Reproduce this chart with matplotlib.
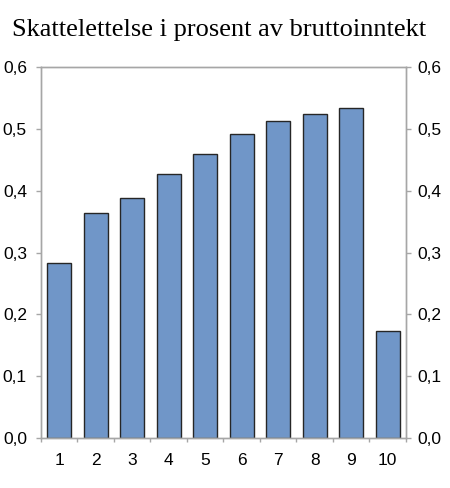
import matplotlib
matplotlib.use("Agg")
import matplotlib.pyplot as plt
import numpy as np

# Data
deciles = ["1", "2", "3", "4", "5", "6", "7", "8", "9", "10"]
values = [0.283, 0.364, 0.389, 0.428, 0.460, 0.492, 0.513, 0.525, 0.534, 0.173]
yticks = [0.0, 0.1, 0.2, 0.3, 0.4, 0.5, 0.6]
ytick_labels = ["0,0", "0,1", "0,2", "0,3", "0,4", "0,5", "0,6"]
title = "Skattelettelse i prosent av bruttoinntekt"

bar_color = "#7096C8"
edge_color = "#262626"
axis_color = "#A6A6A6"
tick_size = 12.5

plt.rcParams["font.family"] = ["Liberation Sans", "DejaVu Sans"]

fig = plt.figure(figsize=(4.5, 4.88), dpi=100)
ax = fig.add_axes([0.091, 0.1025, 0.811, 0.7595])

x = np.arange(len(deciles))
ax.bar(x, values, width=0.66, color=bar_color, edgecolor=edge_color, linewidth=1.0)

ax.set_xlim(-0.5, len(deciles) - 0.5)
ax.set_ylim(0, 0.6)

# category labels in the middle, tick marks between categories
ax.set_xticks(x)
ax.set_xticklabels(deciles, fontsize=tick_size)
ax.set_xticks(np.arange(-0.5, len(deciles), 1.0), minor=True)
ax.tick_params(axis="x", which="major", length=0, pad=11)
ax.tick_params(axis="x", which="minor", length=3, width=1, color=axis_color,
               direction="out")

ax.set_yticks(yticks)
ax.set_yticklabels(ytick_labels, fontsize=tick_size)
ax.tick_params(axis="y", which="major", length=3.6, width=1, color=axis_color,
               direction="out", pad=6.5)

ax2 = ax.twinx()
ax2.set_ylim(0, 0.6)
ax2.set_yticks(yticks)
ax2.set_yticklabels(ytick_labels, fontsize=tick_size)
ax2.tick_params(axis="y", which="major", length=3.6, width=1, color=axis_color,
                direction="out", pad=5)

for a in (ax, ax2):
    for s in a.spines.values():
        s.set_color(axis_color)
        s.set_linewidth(1)

fig.text(12 / 450, 1 - 36 / 488, title, fontsize=19, family="Liberation Serif",
         ha="left", va="baseline")

fig.savefig("out.png", dpi=100)
